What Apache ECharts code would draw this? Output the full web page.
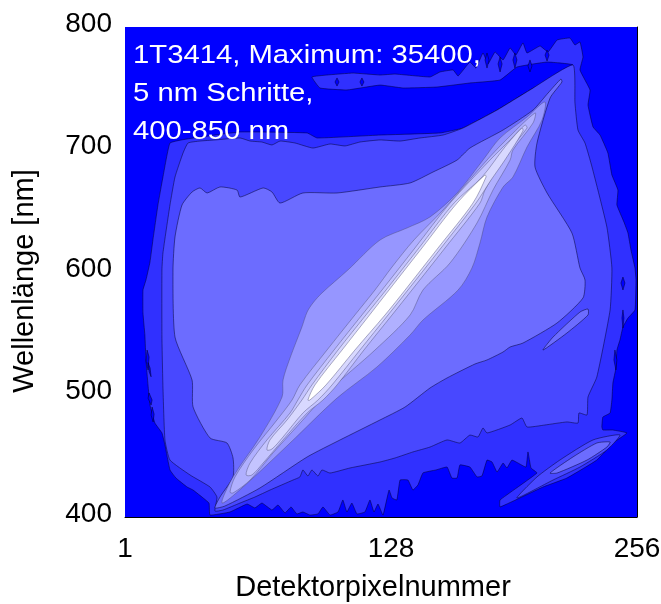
<!DOCTYPE html>
<html><head><meta charset="utf-8">
<style>html,body{margin:0;padding:0;background:#fff}#c{width:661px;height:604px}</style>
<script src="https://cdn.jsdelivr.net/npm/echarts@6/dist/echarts.min.js"></script>
</head><body><div id="c"></div>
<script>
const xTicks = [1, 128, 256];
const yTicks = [400, 500, 600, 700, 800];
const xTitle = 'Detektorpixelnummer';
const yTitle = 'Wellenlänge [nm]';
const noteLines = ['1T3414, Maximum: 35400,', '5 nm Schritte,', '400-850 nm'];

// contour outlines [detector pixel, wavelength nm]
const band1 = [[43.3,401.6],[42.8,411.4],[34.9,422],[31.9,424.5],[26.4,431.8],[23.4,438.4],[20.9,458.8],[19.4,468.6],[15.9,476.7],[13.45,491.4],[12.45,507.8],[11.45,528.2],[10.9,548.6],[9.95,566.5],[9.95,585.3],[11.45,593.5],[13.45,608.2],[14.9,626.1],[17.4,654.7],[19.9,677.5],[23.4,705.3],[31.9,708.6],[58.3,714.3],[91.7,713.5],[96.7,709.4],[128,711.8],[157.9,713.5],[169.3,717.5],[186.3,732.2],[202.7,748.6],[224.1,769],[211.2,771.4],[196.2,767.3],[187.8,756.7],[172.8,754.3],[156.4,751],[139.5,750.2],[128,752.6],[111.6,748.6],[98.1,750.2],[94.1,759.2],[101.6,760.8],[114.6,762.4],[128,760.8],[135.5,761.6],[152.9,759.2],[157.9,763.3],[164.4,764.9],[166.9,760],[172.8,771.4],[175.8,766.5],[179.3,778.8],[181.8,769.8],[185.3,779.6],[189.3,773.1],[192.8,782.9],[195.7,777.1],[199.2,787],[201.2,778.8],[207.7,784.5],[211.7,779.6],[216.2,789.4],[222.6,791],[225.1,785.3],[227.6,787.8],[229.1,775.5],[227.6,764.9],[232.6,748.6],[231.6,736.3],[234.1,718.4],[237.6,711.8],[241.5,697.2],[243.5,679.2],[246.5,666.9],[246,654.7],[249.5,640.8],[251.5,631.8],[253,617.9],[255,603.2],[255.5,593.5],[255,569],[251.5,562.4],[249,555.1],[247.5,544.5],[246,536.3],[245.5,521.6],[244,509.4],[243.5,495.5],[242.6,484.9],[239,481.6],[238.5,473.5],[239,471],[244,471],[251,468.6],[244,460.4],[236,446.5],[221.1,431.8],[209.2,424.5],[187.8,408.2],[187.8,413.9],[206.2,435.9],[203.2,440],[201.7,453.1],[200.7,440.8],[196.7,444.1],[193.7,446.5],[191.2,440],[189.3,444.1],[186.3,436.7],[183.8,444.9],[181.3,446.5],[178.8,433.5],[176.3,432.7],[172.8,440.8],[167.8,442.5],[166.4,431.8],[163.8,431.8],[161.4,440.8],[155.9,438.4],[149.4,436],[146.9,426.1],[144.4,422],[141.9,430.2],[138,430.2],[136.4,413.9],[134,415.5],[132.5,422],[129.5,401.6],[127,410.6],[125,404.1],[123,413.9],[120.5,404.1],[116.5,402.5],[114,411.4],[111.5,404.1],[109.5,413.9],[107.1,404.1],[103.1,401.6],[99.6,408.2],[97.1,402.5],[93.1,401.6],[89.6,404.1],[86.6,402.5],[83.7,408.2],[80.7,403.3],[77.2,409.8],[74.2,405.7],[69.2,411.4],[65.7,407.4],[61.8,410.6],[53.3,404.1]];
const band2 = [[45.8,404.9],[46.8,416.3],[43.35,424.5],[33.4,434.3],[23.4,446.5],[20.9,462.9],[19.9,506.1],[19.4,546.9],[19.4,601.6],[19.9,615.5],[23.4,654.7],[25.9,677.5],[29.9,697.1],[32.4,705.3],[38.35,706.9],[45.8,707.8],[58.3,709.4],[63.3,706.9],[69.2,706.1],[74.2,703.7],[78.2,706.9],[85.7,705.3],[94.6,701.2],[103.1,704.5],[110.6,702.9],[118,706.1],[128,707.8],[138,706.9],[147.9,709.4],[159.4,711.8],[169.3,717.5],[186.3,732.2],[202.7,748.6],[224.1,769],[225.1,738],[226.6,715.9],[230.1,705.3],[233.6,685.7],[241,636.7],[243.5,603.3],[242.6,569],[236,514.3],[231.6,498],[231.1,483.3],[227.1,484.9],[226.6,476.7],[221.1,477.6],[210.1,475.1],[201.2,473.5],[198.7,480.8],[192.8,475.1],[181.3,468.6],[179.3,472.7],[176.8,465.3],[172.8,466.9],[167.8,460.4],[161.4,462.9],[152.9,457.1],[144.4,453.1],[135.5,448.2],[128,444.9],[113,440],[103.1,435.9],[99.1,438.4],[97.1,433.5],[94.1,438.4],[92.1,433.5],[89.6,438.4],[88.1,432.7],[84.7,430.2],[73.2,422],[65.7,416.3],[58.3,411.4],[49.8,405.7]];
const band2Lobe = [[196.2,415.5],[206.2,432.7],[217.6,446.5],[234.1,462.9],[247.5,467],[241,454.7],[227.6,440.8],[214.2,430.2]];
const band3 = [[45.8,407.4],[48.3,416.3],[54.8,432.7],[54.8,448.2],[51.8,460.4],[43.35,464.5],[34.9,489.8],[34.4,511.8],[25.9,546.9],[24.9,601.6],[25.9,628.6],[29.4,654.7],[34.4,665.3],[38.35,668.6],[41.9,664.5],[48.3,669.4],[56.8,666.9],[58.3,661.2],[69.8,668.6],[74.2,665.3],[78.2,656.3],[89.6,664.5],[106.6,664.5],[128,669.4],[143,672.7],[154.4,681.6],[166.4,691.4],[172.8,701.2],[189.3,715.9],[204.2,732.2],[211.7,746.1],[218.1,757.5],[218.6,755.1],[212.7,742],[206.2,705.3],[205.2,685.7],[211.2,664.5],[223.6,631.8],[227.6,603.3],[230.1,593.5],[229.1,578.8],[216.2,558.4],[199.2,542],[192.8,538.8],[189.3,534.7],[181.3,528.2],[175.3,524.9],[161.4,513.5],[152.9,505.3],[140.5,489.8],[128,479.2],[108.1,462.9],[91.7,449],[68.2,423.7],[50.8,409]];
const band3LobeA = [[209.2,536.3],[214.2,546.9],[227.6,567.3],[231.6,569.8],[231.6,564.9],[221.1,550.2]];
const band3LobeB = [[212.7,435.9],[224.1,449],[236,460.4],[242.6,461.2],[241,457.1],[231.1,446.5],[216.2,435.9]];
const band4 = [[49.3,411.4],[54.8,432.7],[68.2,465.3],[79.2,497.9],[79.7,511.8],[83.2,529.8],[89.1,555.1],[91.7,567.3],[94.6,574.7],[99.1,582.9],[112,601.6],[128,626.1],[141.4,635.9],[152.9,644.9],[166.4,664.5],[179.3,691.4],[187.8,709.4],[201.2,726.5],[210.1,738.8],[208.7,724.1],[201.2,702],[194.2,677.5],[189.3,669.4],[181.3,644.9],[177.8,623.7],[173.8,603.3],[166.9,585.3],[149.4,560.8],[143,548.6],[126.5,522.5],[106.6,497.1],[83.2,460.4],[59.8,424.5]];
const band5 = [[53.3,420.4],[55.8,432.7],[64.8,454.7],[76.7,479.2],[84.2,495.5],[88.1,507.8],[101.6,536.3],[115.5,564.9],[125.5,585.3],[134,604.1],[144.9,626.1],[159.4,650.6],[181.3,691.4],[189.3,705.3],[205.2,729.8],[204.2,721.6],[194.2,699.6],[192.8,691.4],[184.3,667],[176.3,640],[162.9,607.4],[149.4,585.3],[143,564.9],[125.5,536.3],[103.1,503.7],[89.6,479.2],[74.7,452.3],[63.3,430.2],[54.8,419.6]];
const band6 = [[61.3,434.3],[63.3,444.1],[71.7,462.9],[83.2,484.9],[87.1,495.5],[91.7,507.8],[105.1,536.3],[119,564.9],[129,585.3],[145.4,619.6],[162.9,656.3],[182.8,691.4],[192.8,707.8],[200.2,720],[201.2,717.5],[191.2,697.1],[180.3,667],[177.8,656.3],[160.4,619.6],[143.9,585.3],[134,564.9],[120,536.3],[106.6,507.8],[99.6,495.5],[91.7,484.9],[79.7,462.9],[69.8,444.1],[64.2,434.3]];
const band7 = [[71.7,454.7],[73.2,462.9],[81.7,479.2],[89.1,495.5],[94.1,507.8],[107.1,536.3],[121,564.9],[131,585.3],[147.4,619.6],[164.9,656.3],[178.8,677.5],[190.2,702],[198.7,717.5],[199.2,715.1],[190.2,691.4],[183.3,675.1],[175.8,656.3],[158.4,619.6],[141.9,585.3],[132,564.9],[118,536.3],[104.1,507.8],[97.1,495.5],[89.6,484.9],[79.7,465.3],[74.2,455.5]];
const band8 = [[92.1,495.5],[95.6,507.8],[109.1,536.3],[122.8,564.9],[132.5,585.3],[148.9,619.6],[166.4,656.3],[180.3,679.2],[180.8,677.5],[174.3,656.3],[156.9,619.6],[140.5,585.3],[130.5,564.9],[115.5,536.3],[101.1,507.8],[93.1,495.5]];
// small pockets of the lowest level
const pocketA = [[12,536.3],[13,530.6],[12.5,520],[11.5,527.3]];
const pocketB = [[13,518.6],[14,514.5],[13.5,521.6],[12.5,526]];
const pocketC = [[13,501.2],[14.5,495.5],[14,491.4],[12.5,497]];
const pocketD = [[14.5,489.8],[15.5,484],[15,477.6],[14,483.2]];
const pocketE = [[249,569],[249.5,562.4],[249,554.3],[248.5,562.4]];
const pocketF = [[245,536.3],[246,528.2],[245.5,520],[244.5,528.2]];
const pocketG = [[249,595.9],[250,591],[249,585.3],[248,591]];
const pocketH = [[181.3,778.8],[182.3,773.1],[181.3,766.5],[180.3,773.1]];
const pocketI = [[187.8,775.5],[188.8,769.8],[187.8,763.3],[186.8,769.8]];
const pocketJ = [[195.2,778.8],[196.2,773.1],[195.2,766.5],[194.2,773.1]];
const pocketK = [[202.7,773.1],[203.7,768.2],[202.7,763.3],[201.7,768.2]];
const pocketL = [[211.2,781.2],[212.2,777.1],[211.2,772.2],[210.2,777.1]];
const pocketM = [[106.6,758.4],[107.6,755.1],[106.6,751.8],[105.6,755.1]];
const pocketN = [[119,758.4],[120,755.1],[119,751.8],[118,755.1]];

const layers = [
  [band1, '#3030ff', 0.1],
  [pocketA, '#0000ff', 0], [pocketB, '#0000ff', 0], [pocketC, '#0000ff', 0], [pocketD, '#0000ff', 0],
  [pocketE, '#0000ff', 0], [pocketF, '#0000ff', 0], [pocketG, '#0000ff', 0], [pocketH, '#0000ff', 0],
  [pocketI, '#0000ff', 0], [pocketJ, '#0000ff', 0], [pocketK, '#0000ff', 0], [pocketL, '#0000ff', 0],
  [pocketM, '#0000ff', 0], [pocketN, '#0000ff', 0],
  [band2, '#4848ff', 0.15], [band2Lobe, '#4848ff', 0.2],
  [band3, '#6c6cff', 0.2], [band3LobeA, '#6c6cff', 0.2], [band3LobeB, '#6c6cff', 0.2],
  [band4, '#9696ff', 0.3], [band5, '#b0b0ff', 0.3], [band6, '#c4c4ff', 0.3], [band7, '#d8d8ff', 0.3], [band8, '#ffffff', 0.3]
];

const chart = echarts.init(document.getElementById('c'));
const font = '"Liberation Sans", Arial, sans-serif';
const series = layers.map(([pts, color, smooth], i) => ({
  type: 'custom',
  coordinateSystem: 'cartesian2d',
  xAxisIndex: 0, yAxisIndex: 0,
  clip: true, silent: true, z: 2 + i,
  encode: {x: 0, y: 1},
  data: pts,
  renderItem(params, api) {
    if (params.dataIndex !== 0) return null;
    return {
      type: 'polygon',
      shape: {points: pts.map(p => api.coord(p)), smooth},
      style: {fill: color, stroke: i > 19 ? 'rgba(70,70,110,0.6)' : 'rgba(0,0,40,0.7)', lineWidth: 0.7}
    };
  }
}));

chart.setOption({
  animation: false,
  backgroundColor: '#ffffff',
  grid: {left: 125, right: 24, top: 27, bottom: 87, backgroundColor: '#0000ff', show: true, borderWidth: 0, outerBoundsMode: 'none'},
  xAxis: {
    type: 'value', min: 1, max: 256,
    name: xTitle, nameLocation: 'middle', nameGap: 56,
    nameTextStyle: {fontFamily: font, fontSize: 29, color: '#000', padding: [0, 16, 0, 0]},
    splitLine: {show: false},
    axisLine: {show: true, onZero: false, lineStyle: {color: '#000', width: 1}},
    axisTick: {show: false, customValues: xTicks},
    axisLabel: {
      fontFamily: font, fontSize: 28, color: '#000', margin: 18, customValues: xTicks,
      formatter: v => v === xTicks[1] ? '{mid|' + v + '}' : String(v),
      rich: {mid: {fontFamily: font, fontSize: 28, color: '#000', padding: [0, 0, 0, 22]}}
    }
  },
  yAxis: [{
    type: 'value', min: yTicks[0], max: yTicks[4], interval: 100,
    name: yTitle, nameLocation: 'middle', nameGap: 86,
    nameTextStyle: {fontFamily: font, fontSize: 29, color: '#000', padding: [0, 18, 0, 0]},
    splitLine: {show: false},
    axisLine: {show: false}, axisTick: {show: false},
    axisLabel: {
      fontFamily: font, fontSize: 28, color: '#000', margin: 13,
      formatter: v => '{lift|' + v + '}',
      rich: {lift: {fontFamily: font, fontSize: 28, color: '#000', padding: [0, 0, 6, 0]}}
    }
  }, {
    type: 'value', min: yTicks[0], max: yTicks[4], interval: 100, position: 'right',
    splitLine: {show: false},
    axisLine: {show: true, lineStyle: {color: '#000', width: 1}},
    axisTick: {show: false}, axisLabel: {show: false}
  }],
  series,
  graphic: noteLines.map((t, i) => ({
    type: 'text', z: 100, x: 133, y: 56 + i * 38, scaleX: 1.125,
    style: {text: t, fill: '#fff', font: '26px ' + font, verticalAlign: 'middle'}
  }))
});
</script></body></html>
